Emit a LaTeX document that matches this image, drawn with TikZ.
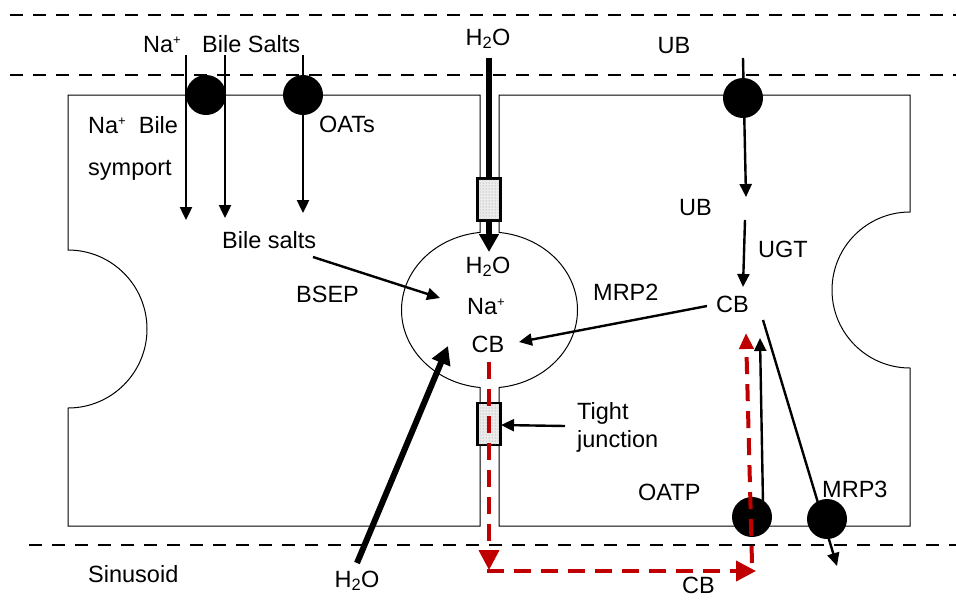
\documentclass[tikz,border=0pt]{standalone}
\usepackage{fontspec}
\setmainfont{Liberation Sans}
\usetikzlibrary{arrows.meta,patterns}
\definecolor{bilered}{HTML}{C00000}
\newcommand{\ionplus}{\raisebox{0.62ex}{\fontsize{13}{13}\selectfont+}}
\tikzset{
  lbl/.style={font=\fontsize{23.5}{28}\selectfont, inner sep=0pt},
  membrane/.style={line width=1pt},
  sep/.style={line width=1.2pt, dash pattern=on 13pt off 10pt},
  flow/.style={line width=2.4pt, -{Triangle[length=13pt,width=12pt]}},
  water/.style={line width=6pt, -{Triangle[length=18pt,width=19pt]}},
  excrete/.style={line width=4pt, bilered, dash pattern=on 17pt off 10pt,
    -{Triangle[length=20pt,width=20pt]}},
  carrier/.style={circle, fill=black, minimum size=40pt, inner sep=0pt},
  junction/.style={draw, line width=2.2pt, fill=gray!15, minimum width=23pt,
    minimum height=42pt, inner sep=0pt,
    postaction={pattern=dots, pattern color=gray!90}}
}
\begin{document}
\begin{tikzpicture}[x=1pt,y=-1pt]
  \useasboundingbox (0,0) rectangle (956,603);
  % separators: bile duct lumen and sinusoid
  \draw[sep] (10,15) -- (956,15);
  \draw[sep] (10,75) -- (956,75);
  \draw[sep] (29,545) -- (956,545);
  % hepatocytes
  \draw[membrane] (480,95) -- (68,95) -- (68,250)
    arc[start angle=-90, end angle=90, radius=79] -- (68,526) -- (480,526)
    -- (480,387.5) arc[start angle=96.2, end angle=263.8, x radius=88, y radius=78]
    -- cycle;
  \draw[membrane] (499,95) -- (910,95) -- (910,212)
    arc[start angle=270, end angle=90, radius=78] -- (910,526) -- (499,526)
    -- (499,387.5) arc[start angle=83.8, end angle=-83.8, x radius=88, y radius=78]
    -- cycle;
  % labels
  \node[lbl, anchor=base west] (nalum) at (143,52) {Na\ionplus};
  \node[lbl, anchor=base west] (bslum) at (202,52) {Bile Salts};
  \node[lbl, anchor=base] (h2otop) at (488,45) {H\textsubscript{2}O};
  \node[lbl, anchor=base] (ublum) at (674,53) {UB};
  \node[lbl, anchor=base west] (symp1) at (88,133) {Na\ionplus\hspace{13pt}Bile};
  \node[lbl, anchor=base west] (symp2) at (88,175) {symport};
  \node[lbl, anchor=base west] (oats) at (319,132) {OATs};
  \node[lbl, anchor=base west] (bscell) at (222,248) {Bile salts};
  \node[lbl, anchor=base west] (bsep) at (296,302) {BSEP};
  \node[lbl, anchor=base] (h2ocan) at (488,273) {H\textsubscript{2}O};
  \node[lbl, anchor=base] (nacan) at (486,314) {Na\ionplus};
  \node[lbl, anchor=base] (cbcan) at (488,352) {CB};
  \node[lbl, anchor=base west] (mrp2) at (593,300) {MRP2};
  \node[lbl, anchor=base west] (ubcell) at (679,215) {UB};
  \node[lbl, anchor=base west] (ugt) at (758,257) {UGT};
  \node[lbl, anchor=base west] (cbcell) at (716,312) {CB};
  \node[lbl, anchor=base west] (tight1) at (577,419) {Tight};
  \node[lbl, anchor=base west] (tight2) at (577,447) {junction};
  \node[lbl, anchor=base west] (oatp) at (638,500) {OATP};
  \node[lbl, anchor=base west] (mrp3) at (822,497) {MRP3};
  \node[lbl, anchor=base west] (cbsin) at (682,593) {CB};
  \node[lbl, anchor=base west] (sinus) at (88,582) {Sinusoid};
  \node[lbl, anchor=base] (h2osin) at (357,587) {H\textsubscript{2}O};
  % arrow ends
  \coordinate (naA) at (186,55);   \coordinate (naB) at (186,220);
  \coordinate (bsA) at (225,55);   \coordinate (bsB) at (225,218);
  \coordinate (oaA) at (303,55);   \coordinate (oaB) at (303,213);
  \coordinate (bpA) at (313,257);  \coordinate (bpB) at (440,298);
  \coordinate (ubA) at (743,58);   \coordinate (ubB) at (746,197);
  \coordinate (ugA) at (745,220);  \coordinate (ugB) at (743,287);
  \coordinate (m2A) at (707,306);  \coordinate (m2B) at (519,342);
  \coordinate (otA) at (763,503);  \coordinate (otB) at (760,338);
  \coordinate (m3A) at (763,320);  \coordinate (m3B) at (837,566);
  \coordinate (tjA) at (565,426);  \coordinate (tjB) at (501,425);
  \coordinate (wtA) at (489,58);   \coordinate (wtB) at (489,252);
  \coordinate (wsA) at (357,563);  \coordinate (wsB) at (448,346);
  \coordinate (rdA) at (489,362);  \coordinate (rdB) at (489,570);
  \coordinate (rhA) at (487,571);  \coordinate (rhB) at (756,571);
  \coordinate (ruA) at (752,563);  \coordinate (ruB) at (746,333);
  % water
  \draw[water] (wtA) -- (wtB);
  \draw[water] (wsA) -- (wsB);
  % transport
  \draw[flow] (naA) -- (naB);
  \draw[flow] (bsA) -- (bsB);
  \draw[flow] (oaA) -- (oaB);
  \draw[flow] (bpA) -- (bpB);
  \draw[flow] (ubA) -- (ubB);
  \draw[flow] (ugA) -- (ugB);
  \draw[flow] (m2A) -- (m2B);
  \draw[flow] (otA) -- (otB);
  \draw[flow] (m3A) -- (m3B);
  \draw[flow] (tjA) -- (tjB);
  % carriers
  \node[carrier] (sympc) at (206,95) {};
  \node[carrier] (oatsc) at (303,95) {};
  \node[carrier] (ubc) at (743,98) {};
  \node[carrier] (oatpc) at (752,517) {};
  \node[carrier] (mrp3c) at (827,519) {};
  % tight junctions
  \node[junction] (tjtop) at (489,199.5) {};
  \node[junction] (tjbot) at (489,424) {};
  % CB back to the sinusoid
  \draw[excrete] (rdA) -- (rdB);
  \draw[excrete] (rhA) -- (rhB);
  \draw[excrete, -{Triangle[length=16pt,width=14pt]}] (ruA) -- (ruB);
\end{tikzpicture}
\end{document}
